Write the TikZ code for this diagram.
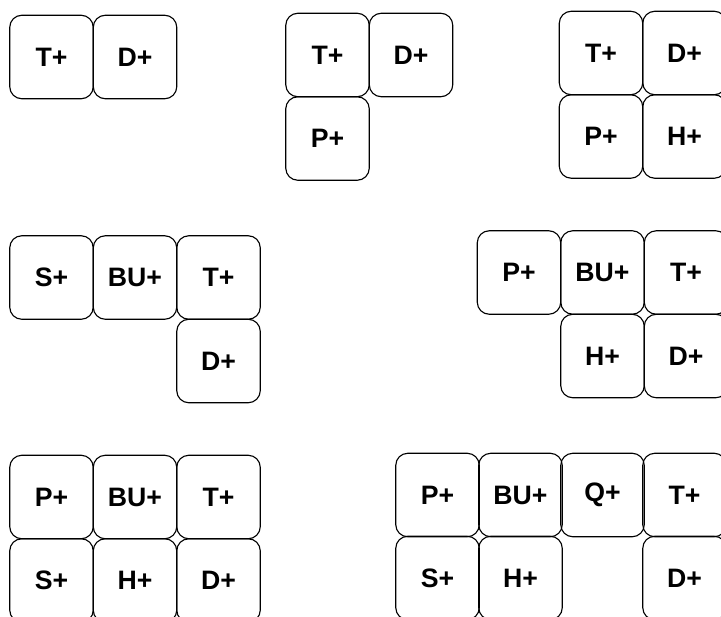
\documentclass[tikz,border=0pt]{standalone}
\usepackage{fontspec}
\setmainfont{Liberation Sans}
\tikzset{
  cell/.style={draw, line width=0.85pt, rounded corners=9pt,
    minimum width=62.6pt, minimum height=62.6pt, inner sep=0pt,
    font=\fontsize{20}{20}\selectfont\bfseries},
}
\begin{document}
\begin{tikzpicture}[x=0.75pt, y=-0.75pt]
\useasboundingbox (0,0) rectangle (721,617);
\clip (0,0) rectangle (721,617);

% first row
\begin{scope}[shift={(51.5,57)}, name prefix=A-]
  \node[cell] (T) at (0,0) {T+};
  \node[cell] (D) at (83.5,0) {D+};
\end{scope}

\begin{scope}[shift={(327.5,55)}, name prefix=B-]
  \node[cell] (T) at (0,0) {T+};
  \node[cell] (D) at (83.5,0) {D+};
  \node[cell] (P) at (0,83.5) {P+};
\end{scope}

\begin{scope}[shift={(601,53)}, name prefix=C-]
  \node[cell] (T) at (0,0) {T+};
  \node[cell] (D) at (83.5,0) {D+};
  \node[cell] (P) at (0,83.5) {P+};
  \node[cell] (H) at (83.5,83.5) {H+};
\end{scope}

% second row
\begin{scope}[shift={(51.5,277.5)}, name prefix=E-]
  \node[cell] (S) at (0,0) {S+};
  \node[cell] (BU) at (83.5,0) {BU+};
  \node[cell] (T) at (167,0) {T+};
  \node[cell] (D) at (167,83.5) {D+};
\end{scope}

\begin{scope}[shift={(519,272.5)}, name prefix=F-]
  \node[cell] (P) at (0,0) {P+};
  \node[cell] (BU) at (83.5,0) {BU+};
  \node[cell] (T) at (167,0) {T+};
  \node[cell] (H) at (83.5,83.5) {H+};
  \node[cell] (D) at (167,83.5) {D+};
\end{scope}

% third row
\begin{scope}[shift={(51.5,497)}, name prefix=G-]
  \node[cell] (P) at (0,0) {P+};
  \node[cell] (BU) at (83.5,0) {BU+};
  \node[cell] (T) at (167,0) {T+};
  \node[cell] (S) at (0,83.5) {S+};
  \node[cell] (H) at (83.5,83.5) {H+};
  \node[cell] (D) at (167,83.5) {D+};
\end{scope}

\begin{scope}[shift={(437.5,495)}, name prefix=K-]
  \node[cell] (P) at (0,0) {P+};
  \node[cell] (BU) at (83,0) {BU+};
  \node[cell] (Q) at (165,0) {Q+};
  \node[cell] (T) at (247,0) {T+};
  \node[cell] (S) at (0,83) {S+};
  \node[cell] (H) at (83,83) {H+};
  \node[cell] (D) at (247,83) {D+};
\end{scope}

\end{tikzpicture}
\end{document}
